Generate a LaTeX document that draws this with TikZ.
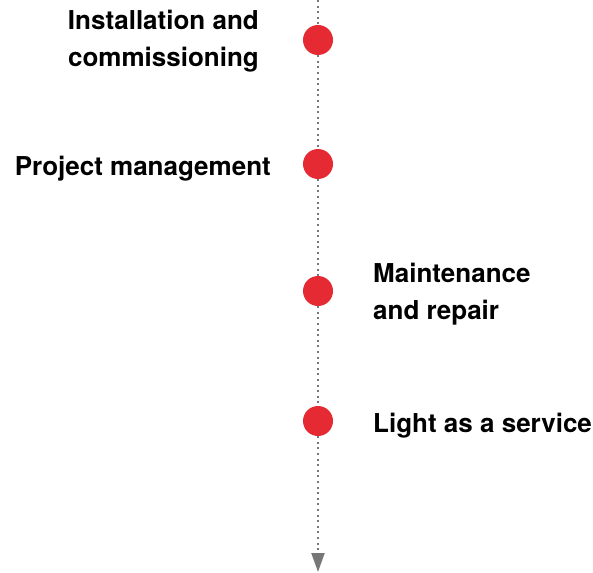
\documentclass[tikz,border=0pt]{standalone}
\usepackage{fontspec}
\setmainfont{TeX Gyre Heros}
\usepackage{xcolor}
\usetikzlibrary{positioning,arrows.meta}
\definecolor{dotred}{HTML}{E52A34}
\definecolor{line}{HTML}{777777}

\begin{document}
\begin{tikzpicture}[x=1pt,y=-1pt,
  stage/.style={circle, fill=dotred, minimum size=30pt, inner sep=0pt},
  track/.style={line, line width=2pt, dash pattern=on 2pt off 3.6pt},
  lbl/.style={font=\fontsize{26}{37}\selectfont\bfseries, inner sep=0pt}]
\useasboundingbox (0,0) rectangle (593,572);
% the stages
\node [stage] (inst) at (318,40) {};
\node [stage] (proj) at (318,164) {};
\node [stage] (main) at (318,291) {};
\node [stage] (laas) at (318,421) {};
\coordinate (top) at (318,0);
\coordinate (end) at (318,572);
\draw [track] (top) -- (inst);
\draw [track] (inst) -- (proj);
\draw [track] (proj) -- (main);
\draw [track] (main) -- (laas);
\draw [track, -{Triangle[length=19pt,width=13pt]}] (laas) -- (end);
% the labels (base = last line)
\node [lbl, align=right, anchor=base east] (instl) at (259,67) {Installation and\\commissioning};
\node [lbl, anchor=base east] (projl) at (271,175) {Project management};
\node [lbl, align=left, anchor=base west] (mainl) at (373,319) {Maintenance\\and repair};
\node [lbl, anchor=base west] (laasl) at (373,432) {Light as a service};
\end{tikzpicture}
\end{document}
